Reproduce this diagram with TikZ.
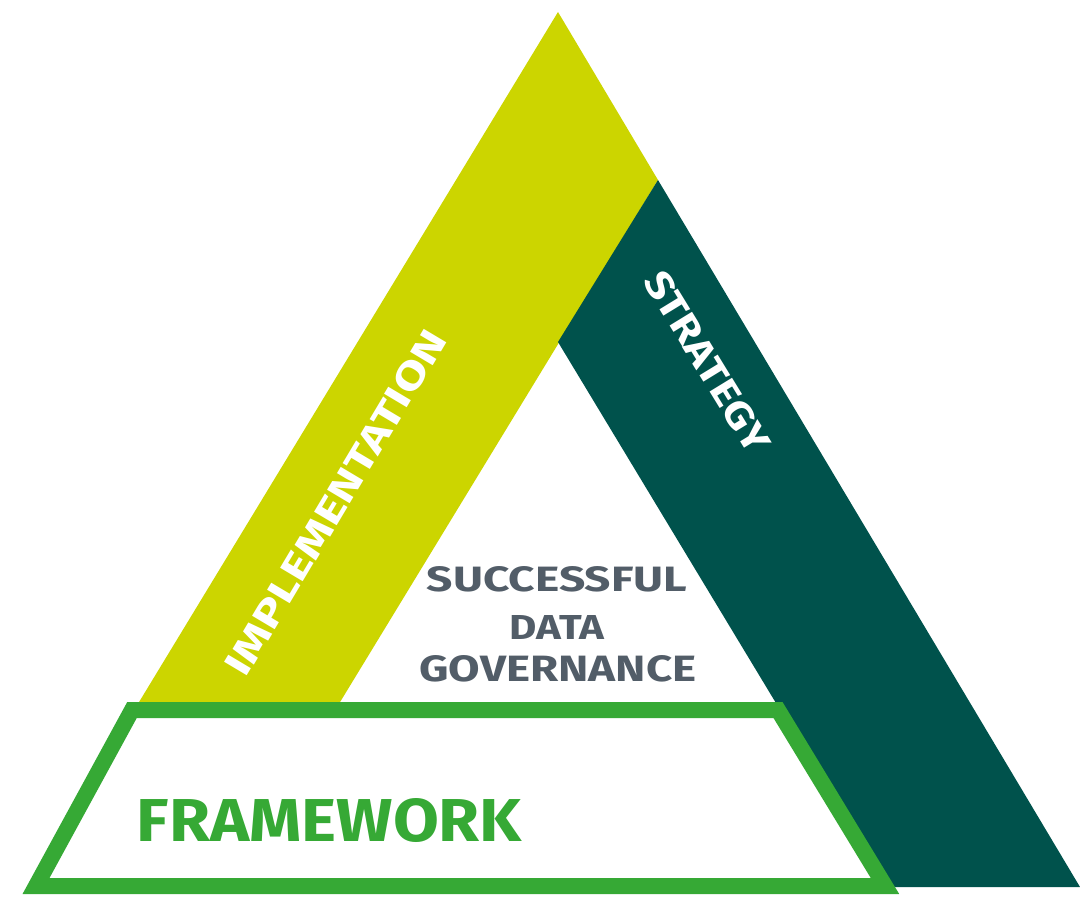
\documentclass[tikz,border=0pt]{standalone}
\usepackage{fontspec}
\setmainfont{Fira Sans}
\usepackage{graphicx}
\definecolor{limeband}{RGB}{204,213,0}
\definecolor{darkband}{RGB}{0,82,76}
\definecolor{framegreen}{RGB}{54,169,53}
\definecolor{graytext}{RGB}{82,93,104}
\newcommand{\fitbox}[3]{\resizebox{#1pt}{#2pt}{\bfseries #3}}
\tikzset{
  band/.style={draw=none},
  frameshape/.style={draw=framegreen, line width=16pt, fill=white, line join=miter},
  lbl/.style={inner sep=0pt, outer sep=0pt, anchor=center}
}
\begin{document}
\begin{tikzpicture}[x=1pt,y=-1pt]
\useasboundingbox (0,0) rectangle (1080,897);
% yellow band (implementation)
\fill[limeband] (558,12) -- (658,180) -- (334,712) -- (133,712) -- cycle;
% dark band (strategy)
\fill[darkband] (658,180) -- (1080,887) -- (887,887) -- (558,342) -- cycle;
% framework trapezoid
\draw[frameshape] (132,710) -- (778,710) -- (885,886) -- (36,886) -- cycle;
% texts
\node[lbl, text=white, rotate=59.2] (impl) at (335.5,502.5) {\fitbox{395}{27}{IMPLEMENTATION}};
\node[lbl, text=white, rotate=-58.5] (strat) at (707,362) {\fitbox{205}{27}{STRATEGY}};
\node[lbl, text=graytext] (succ) at (557,579) {\fitbox{260}{25}{SUCCESSFUL}};
\node[lbl, text=graytext] (data) at (557,627) {\fitbox{95}{24}{DATA}};
\node[lbl, text=graytext] (gov) at (558,669) {\fitbox{277}{26}{GOVERNANCE}};
\node[lbl, text=framegreen] (frame) at (329.5,820) {\fitbox{385}{43}{FRAMEWORK}};
\end{tikzpicture}
\end{document}
